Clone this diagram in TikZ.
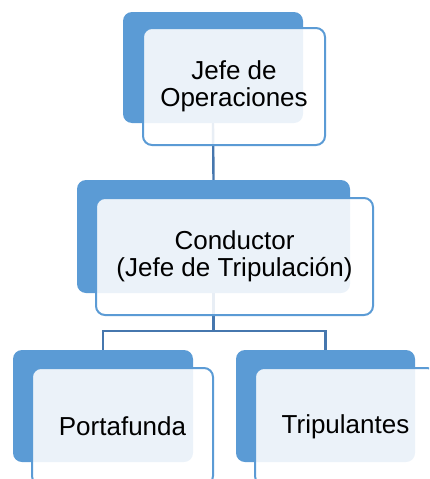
\documentclass[tikz,border=0pt]{standalone}
\usepackage{fontspec}
\setmainfont{Liberation Sans}
\usetikzlibrary{calc}
\definecolor{backblue}{HTML}{5B9BD5}
\definecolor{edgeblue}{HTML}{5B9BD5}
\definecolor{linkblue}{HTML}{4677AE}
\tikzset{
  backbox/.style={draw=none, fill=backblue, rounded corners=9pt, inner sep=0pt},
  frontbox/.style={draw=edgeblue, line width=2pt, fill=white, fill opacity=0.88, text opacity=1,
    rounded corners=9pt, inner sep=0pt, align=center, font=\fontsize{26}{26.5}\selectfont},
  link/.style={draw=linkblue, line width=2.4pt}
}
\begin{document}
\begin{tikzpicture}[x=1pt,y=-1pt]
\useasboundingbox (0,0) rectangle (429,479);
\clip (0,0) rectangle (429,479);
% back boxes
\node[backbox, minimum width=180pt, minimum height=111pt] (topb) at (213,67.5) {};
\node[backbox, minimum width=273pt, minimum height=113pt] (midb) at (213.5,236.5) {};
\node[backbox, minimum width=180pt, minimum height=112pt] (blb) at (103,406) {};
\node[backbox, minimum width=179pt, minimum height=112pt] (brb) at (325.5,406) {};
% connectors
\coordinate (fork) at (213.5,331);
\draw[link] (topb.south) -- (midb.north);
\draw[link] (midb.south) -- (fork) -| (blb.north);
\draw[link] (fork) -| (brb.north);
% front boxes
\node[frontbox, minimum width=182pt, minimum height=117pt] (topf) at (234,86.5) {Jefe de\\Operaciones};
\node[frontbox, minimum width=277pt, minimum height=117pt] (midf) at (234.5,256.5) {Conductor\\(Jefe de Tripulación)};
\node[frontbox, minimum width=181pt, minimum height=117pt] (blf) at (122.5,426.5) {Portafunda};
\node[frontbox, minimum width=181pt, minimum height=117pt] (brf) at (345.5,426.5) {Tripulantes};
\end{tikzpicture}
\end{document}
